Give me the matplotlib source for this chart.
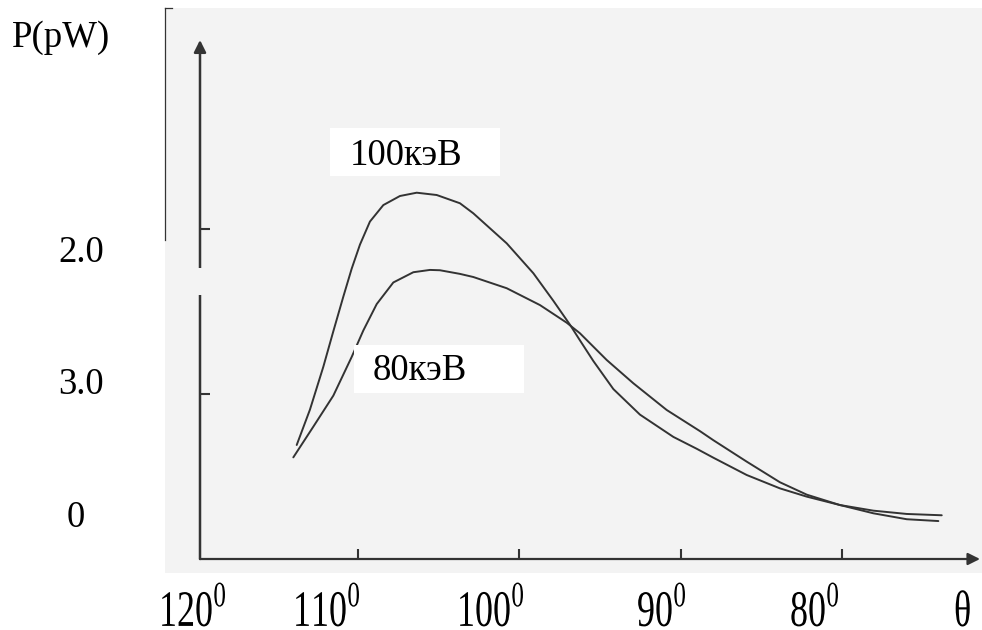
import numpy as np
import matplotlib.pyplot as plt
from matplotlib.patches import Rectangle, PathPatch
from matplotlib.lines import Line2D
from matplotlib.textpath import TextPath
from matplotlib.transforms import Affine2D, IdentityTransform
from matplotlib.font_manager import FontProperties

plt.rcParams['font.family'] = ['Liberation Serif', 'DejaVu Serif']
plt.rcParams['mathtext.fontset'] = 'custom'
plt.rcParams['mathtext.rm'] = 'Liberation Serif'

# angle (deg) and power
theta_100 = [113.80, 112.98, 112.15, 111.53, 110.91, 110.39, 109.88, 109.26, 108.43, 107.40,
             106.36, 105.12, 103.68, 102.85, 100.78, 99.13, 97.89, 96.86, 96.24, 95.41,
             94.17, 92.52, 90.45, 89.0, 87.97, 85.90, 83.84, 82.18, 80.12, 78.05,
             75.98, 74.02]
p_100 = [0.691, 0.905, 1.165, 1.380, 1.590, 1.760, 1.905, 2.045, 2.145, 2.200,
         2.220, 2.206, 2.156, 2.095, 1.913, 1.732, 1.565, 1.420, 1.325, 1.200,
         1.030, 0.875, 0.740, 0.668, 0.614, 0.509, 0.428, 0.378, 0.327, 0.277,
         0.241, 0.230]

theta_80 = [114.01, 112.77, 111.53, 110.39, 109.67, 108.84, 107.81, 106.57, 105.54, 104.92,
            103.68, 102.85, 100.78, 98.72, 97.06, 96.24, 94.58, 92.93, 90.86, 88.80,
            87.97, 85.90, 83.84, 82.18, 80.12, 78.05, 75.98, 73.81]
p_80 = [0.616, 0.802, 0.990, 1.225, 1.385, 1.545, 1.676, 1.738, 1.752, 1.750,
        1.728, 1.709, 1.641, 1.539, 1.432, 1.368, 1.206, 1.065, 0.903, 0.775,
        0.720, 0.590, 0.465, 0.390, 0.327, 0.293, 0.273, 0.265]

xticks = [110, 100, 90, 80]
xtick_labels = ['120$^{0}$', '110$^{0}$', '100$^{0}$', '90$^{0}$', '80$^{0}$', 'θ']
xlabel_px = [159, 293, 457, 637, 790, 954]
ytick_vals = [1, 2]
ylabels = ['2.0', '3.0', '0']
ylabel_px = [(58, 262), (58, 394), (67, 527)]

W, H = 982, 630
fs = 26.5
fig = plt.figure(figsize=(W / 100, H / 100), dpi=100)


def fx(px):
    return px / W


def fy(py):
    return 1 - py / H


def tall_text(s, px, py, size=36, sy=1.42):
    # the scanned tick labels are condensed: draw them as stretched glyph outlines
    tp = TextPath((0, 0), s, size=size, prop=FontProperties(family='Liberation Serif'))
    tr = Affine2D().scale(1, sy).translate(px, H - py)
    fig.patches.append(PathPatch(tr.transform_path(tp), transform=IdentityTransform(),
                                 facecolor='black', edgecolor='none', zorder=6))


# scanned paper background
fig.patches.append(Rectangle((fx(165), fy(573)), fx(982 - 165), (573 - 8) / H,
                             transform=fig.transFigure, facecolor='#f3f3f3',
                             edgecolor='none', zorder=-1))
fig.lines.append(Line2D([fx(165), fx(165)], [fy(8), fy(240)], transform=fig.transFigure,
                        color='#333333', lw=0.9))
fig.lines.append(Line2D([fx(165), fx(172)], [fy(8), fy(8)], transform=fig.transFigure,
                        color='#333333', lw=0.9))

ax = fig.add_axes([fx(200), fy(559), fx(982 - 200), (559 - 35) / H], zorder=2)
ax.patch.set_alpha(0)
ax.set_xlim(120 - (200 - 196.7) / 16.13, 120 - (982 - 196.7) / 16.13)
ax.set_ylim(0, (559 - 35) / 165)
for s in ax.spines.values():
    s.set_visible(False)

c = '#333333'
ax.plot(theta_100, p_100, color=c, lw=1.4, solid_capstyle='round', solid_joinstyle='round')
ax.plot(theta_80, p_80, color=c, lw=1.4, solid_capstyle='round', solid_joinstyle='round')

# hand drawn axes with arrows
x0 = ax.get_xlim()[0]
ax.annotate('', xy=(120 - (980 - 196.7) / 16.13, 0), xytext=(x0, 0),
            arrowprops=dict(arrowstyle='-|>', color=c, lw=1.6, mutation_scale=18,
                            shrinkA=0, shrinkB=0), annotation_clip=False)
ax.annotate('', xy=(x0, (559 - 40) / 165), xytext=(x0, 0),
            arrowprops=dict(arrowstyle='-|>', color=c, lw=1.8, mutation_scale=18,
                            shrinkA=0, shrinkB=0), annotation_clip=False)

ax.set_xticks(xticks)
ax.set_yticks(ytick_vals)
ax.tick_params(direction='in', length=7, width=1.5, color=c,
               labelbottom=False, labelleft=False)

# gap in the drawn y axis
fig.patches.append(Rectangle((fx(196), fy(295)), fx(8), 27 / H, transform=fig.transFigure,
                             facecolor='#f3f3f3', edgecolor='none', zorder=5))

# white label boxes pasted over the scan
fig.patches.append(Rectangle((fx(330), fy(176)), fx(170), 48 / H, transform=fig.transFigure,
                             facecolor='white', edgecolor='none', zorder=5))
fig.patches.append(Rectangle((fx(354), fy(393)), fx(170), 48 / H, transform=fig.transFigure,
                             facecolor='white', edgecolor='none', zorder=5))
fig.text(fx(350), fy(165), '100кэВ', fontsize=fs, va='baseline', zorder=6)
fig.text(fx(373), fy(380), '80кэВ', fontsize=fs, va='baseline', zorder=6)

fig.text(fx(12), fy(47), 'P(pW)', fontsize=fs, va='baseline')
for lab, (px, py) in zip(ylabels, ylabel_px):
    fig.text(fx(px), fy(py), lab, fontsize=fs, va='baseline')
for lab, px in zip(xtick_labels, xlabel_px):
    tall_text(lab, px, 626)

fig.savefig('out.png', dpi=100, facecolor='white')
